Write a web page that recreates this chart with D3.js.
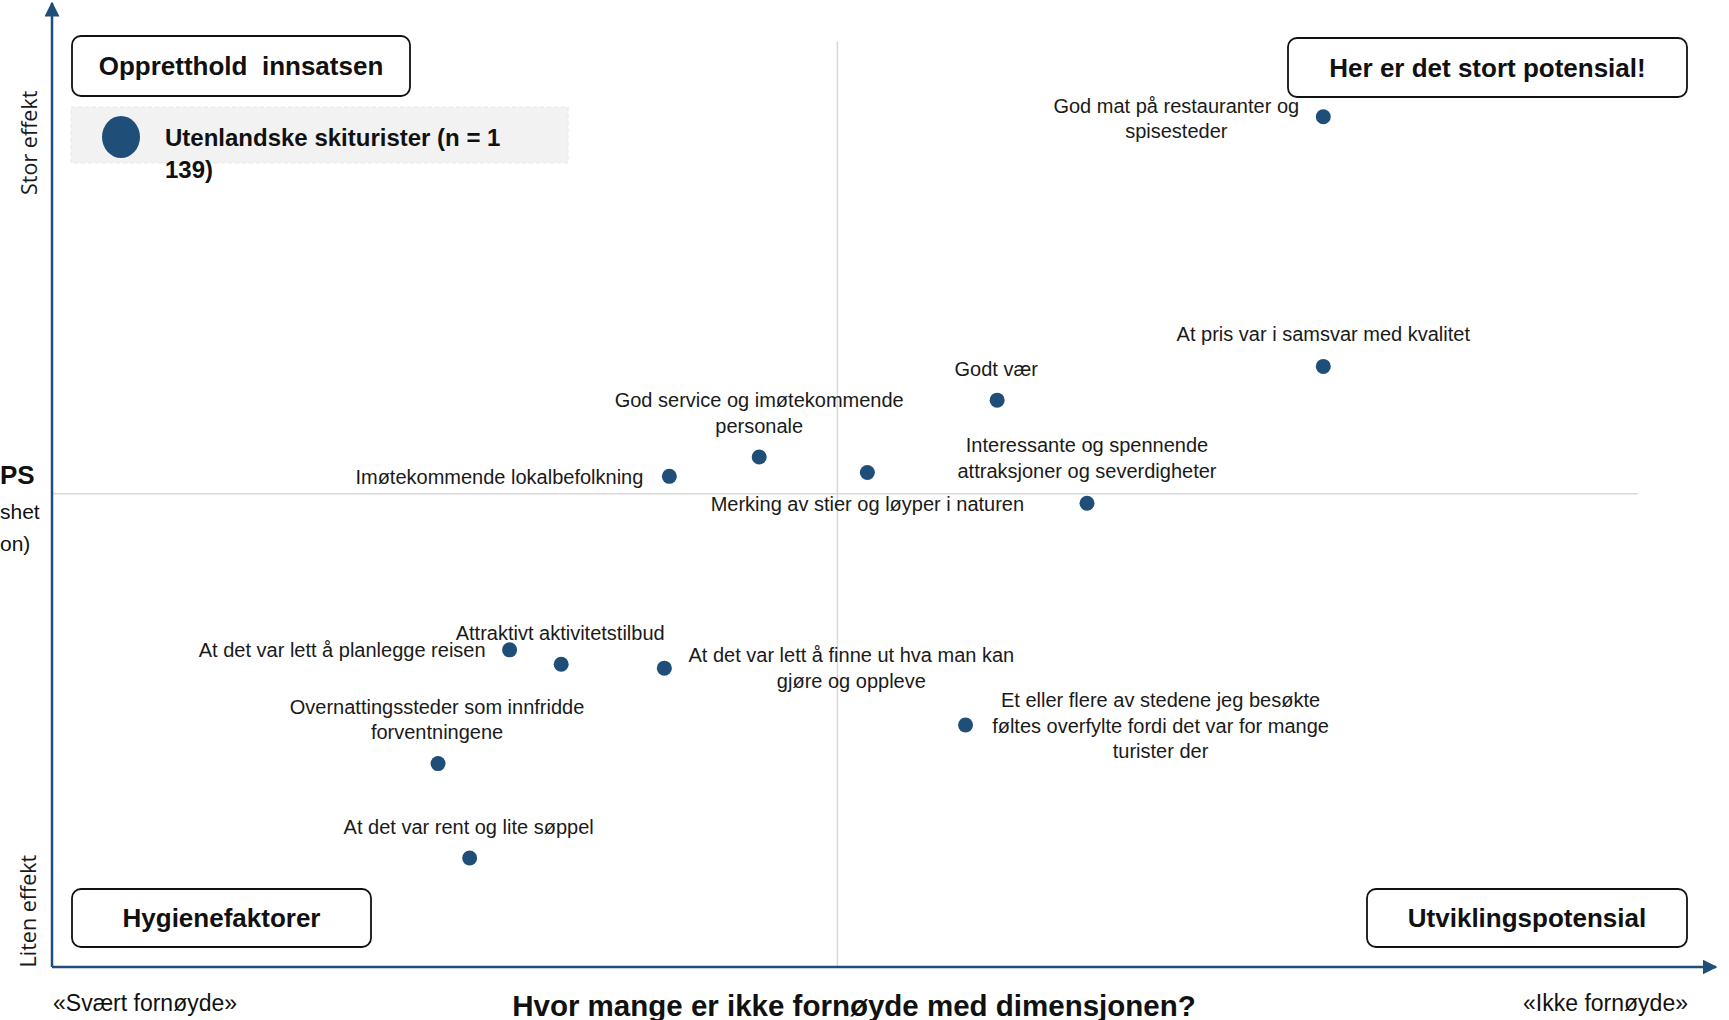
<!DOCTYPE html>
<html>
<head>
<meta charset="utf-8">
<script src="https://cdn.jsdelivr.net/npm/d3@7"></script>
<style>
  html, body { margin: 0; padding: 0; background: #ffffff; }
  svg { display: block; }
</style>
</head>
<body>
<svg id="chart" width="1729" height="1020"></svg>
<script>
// ---- Data ----
const categories = [
  ["God mat på restauranter og", "spisesteder"],
  ["At pris var i samsvar med kvalitet"],
  ["Godt vær"],
  ["God service og imøtekommende", "personale"],
  ["Imøtekommende lokalbefolkning"],
  ["Merking av stier og løyper i naturen"],
  ["Interessante og spennende", "attraksjoner og severdigheter"],
  ["At det var lett å planlegge reisen"],
  ["Attraktivt aktivitetstilbud"],
  ["At det var lett å finne ut hva man kan", "gjøre og oppleve"],
  ["Et eller flere av stedene jeg besøkte", "føltes overfylte fordi det var for mange", "turister der"],
  ["Overnattingssteder som innfridde", "forventningene"],
  ["At det var rent og lite søppel"]
];
// share not satisfied (x) and effect (y)
const notSatisfied = [76.4, 76.4, 56.8, 42.5, 37.1, 49.0, 62.2, 27.5, 30.6, 36.8, 54.9, 23.2, 25.1];
const effect       = [88.2, 62.3, 58.8, 52.9, 50.9, 51.3, 48.1, 32.9, 31.4, 31.0, 25.1, 21.1, 11.3];
const seriesName = ["Utenlandske skiturister (n = 1", "139)"];
const quadrantLabels = ["Oppretthold  innsatsen", "Her er det stort potensial!", "Hygienefaktorer", "Utviklingspotensial"];
const yAxisLabels = ["Stor effekt", "Liten effekt"];
const xAxisLabels = ["«Svært fornøyde»", "«Ikke fornøyde»"];
const xTitle = "Hvor mange er ikke fornøyde med dimensjonen?";
const yTitleFragments = ["PS", "shet", "on)"];
const midX = 47.2, midY = 49.1;

// ---- Layout (label placement relative to each dot) ----
const labelLayout = [
  {anchor: "middle", dx: -147, dy: -11},
  {anchor: "middle", dx: 0, dy: -32},
  {anchor: "middle", dx: -1, dy: -31},
  {anchor: "middle", dx: 0, dy: -57},
  {anchor: "end", dx: -26, dy: 1},
  {anchor: "middle", dx: 0, dy: 32},
  {anchor: "middle", dx: 0, dy: -58},
  {anchor: "end", dx: -24, dy: 0},
  {anchor: "middle", dx: -1, dy: -31},
  {anchor: "middle", dx: 187, dy: -13},
  {anchor: "middle", dx: 195, dy: -25},
  {anchor: "middle", dx: -1, dy: -57},
  {anchor: "middle", dx: -1, dy: -31}
];

const W = 1729, H = 1020;
const axisColor = "#1f4e79";
const dotColor = "#1f4e79";
const svg = d3.select("#chart");

const x = d3.scaleLinear().domain([0, 100]).range([52, 1716]);
const y = d3.scaleLinear().domain([0, 100]).range([967, 3]);

const labelFont = "'Liberation Sans', Arial, sans-serif";

// midlines
svg.append("line")
  .attr("x1", x(midX)).attr("x2", x(midX))
  .attr("y1", y(96)).attr("y2", y(0))
  .attr("stroke", "#d9d9d9").attr("stroke-width", 1.5);
svg.append("line")
  .attr("x1", x(0)).attr("x2", x(95.3))
  .attr("y1", y(midY)).attr("y2", y(midY))
  .attr("stroke", "#d9d9d9").attr("stroke-width", 1.5);

// axes with arrows
const defs = svg.append("defs");
defs.append("marker").attr("id", "arrow")
  .attr("viewBox", "0 0 10 10").attr("refX", 9).attr("refY", 5)
  .attr("markerWidth", 6).attr("markerHeight", 6).attr("markerUnits", "strokeWidth")
  .attr("orient", "auto")
  .append("path").attr("d", "M0,0 L10,5 L0,10 Z").attr("fill", axisColor);

svg.append("line")
  .attr("x1", x(0)).attr("y1", y(0)).attr("x2", x(0)).attr("y2", y(100))
  .attr("stroke", axisColor).attr("stroke-width", 2.5).attr("marker-end", "url(#arrow)");
svg.append("line")
  .attr("x1", x(0)).attr("y1", y(0)).attr("x2", x(100)).attr("y2", y(0))
  .attr("stroke", axisColor).attr("stroke-width", 2.5).attr("marker-end", "url(#arrow)");

// quadrant boxes
const boxes = [
  {x0: 72, y0: 36, w: 338, h: 60},
  {x0: 1288, y0: 38, w: 399, h: 59},
  {x0: 72, y0: 889, w: 299, h: 58},
  {x0: 1367, y0: 889, w: 320, h: 58}
];
boxes.forEach((b, i) => {
  svg.append("rect").attr("x", b.x0).attr("y", b.y0).attr("width", b.w).attr("height", b.h)
    .attr("rx", 9).attr("fill", "#fff").attr("stroke", "#111").attr("stroke-width", 1.8);
  svg.append("text").attr("x", b.x0 + b.w / 2).attr("y", b.y0 + b.h / 2)
    .attr("text-anchor", "middle").attr("dominant-baseline", "central")
    .attr("font-family", labelFont).attr("font-weight", "bold").attr("font-size", 26)
    .attr("fill", "#111").attr("xml:space", "preserve")
    .style("white-space", "pre")
    .text(quadrantLabels[i]);
});

// legend
svg.append("rect").attr("x", 71).attr("y", 107).attr("width", 497).attr("height", 56)
  .attr("fill", "#f2f2f2").attr("stroke", "#e8e8e8").attr("stroke-dasharray", "4,3");
svg.append("ellipse").attr("cx", 121).attr("cy", 137).attr("rx", 19).attr("ry", 21).attr("fill", dotColor);
svg.append("text").attr("x", 165).attr("y", 137)
  .attr("font-family", labelFont).attr("font-weight", "bold").attr("font-size", 24).attr("fill", "#111")
  .attr("dominant-baseline", "central")
  .selectAll("tspan").data(seriesName).join("tspan")
  .attr("x", 165).attr("dy", (d, i) => i === 0 ? 0 : 32).text(d => d);

// y-axis end labels
svg.append("text").attr("transform", `translate(28,${y(85.5)}) rotate(-90)`)
  .attr("text-anchor", "middle").attr("dominant-baseline", "central")
  .attr("font-family", "'Open Sans', sans-serif").attr("font-size", 21.5).attr("fill", "#1a1a1a")
  .text(yAxisLabels[0]);
svg.append("text").attr("transform", `translate(27,${y(5.8)}) rotate(-90)`)
  .attr("text-anchor", "middle").attr("dominant-baseline", "central")
  .attr("font-family", "'Open Sans', sans-serif").attr("font-size", 21.5).attr("fill", "#1a1a1a")
  .text(yAxisLabels[1]);

// y title fragments at the left edge
svg.append("text").attr("x", 0).attr("y", 475).attr("dominant-baseline", "central")
  .attr("font-family", labelFont).attr("font-weight", "bold").attr("font-size", 26).attr("fill", "#111")
  .text(yTitleFragments[0]);
svg.append("text").attr("x", 0).attr("y", 511).attr("dominant-baseline", "central")
  .attr("font-family", labelFont).attr("font-size", 21).attr("fill", "#111")
  .text(yTitleFragments[1]);
svg.append("text").attr("x", 0).attr("y", 543).attr("dominant-baseline", "central")
  .attr("font-family", labelFont).attr("font-size", 21).attr("fill", "#111")
  .text(yTitleFragments[2]);

// x-axis labels
svg.append("text").attr("x", x(0) + 1).attr("y", 1003).attr("dominant-baseline", "central")
  .attr("font-family", labelFont).attr("font-size", 23).attr("fill", "#111").text(xAxisLabels[0]);
svg.append("text").attr("x", 1688).attr("y", 1003).attr("text-anchor", "end").attr("dominant-baseline", "central")
  .attr("font-family", labelFont).attr("font-size", 23).attr("fill", "#111").text(xAxisLabels[1]);
svg.append("text").attr("x", 854).attr("y", 1005).attr("text-anchor", "middle").attr("dominant-baseline", "central")
  .attr("font-family", labelFont).attr("font-weight", "bold").attr("font-size", 29.5).attr("fill", "#111").text(xTitle);

// points
const pts = categories.map((c, i) => ({lines: c, x: notSatisfied[i], y: effect[i], lay: labelLayout[i]}));
svg.append("g").selectAll("circle").data(pts).join("circle")
  .attr("cx", d => x(d.x)).attr("cy", d => y(d.y)).attr("r", 7.5).attr("fill", dotColor);

// labels
const lab = svg.append("g").selectAll("text").data(pts).join("text")
  .attr("font-family", labelFont).attr("font-size", 20).attr("fill", "#1a1a1a")
  .attr("text-anchor", d => d.lay.anchor)
  .attr("dominant-baseline", "central");
lab.selectAll("tspan").data(d => d.lines.map((l, j) => ({l, j, d}))).join("tspan")
  .attr("x", t => x(t.d.x) + t.d.lay.dx)
  .attr("y", t => y(t.d.y) + t.d.lay.dy + t.j * 25.5)
  .text(t => t.l);
</script>
</body>
</html>
